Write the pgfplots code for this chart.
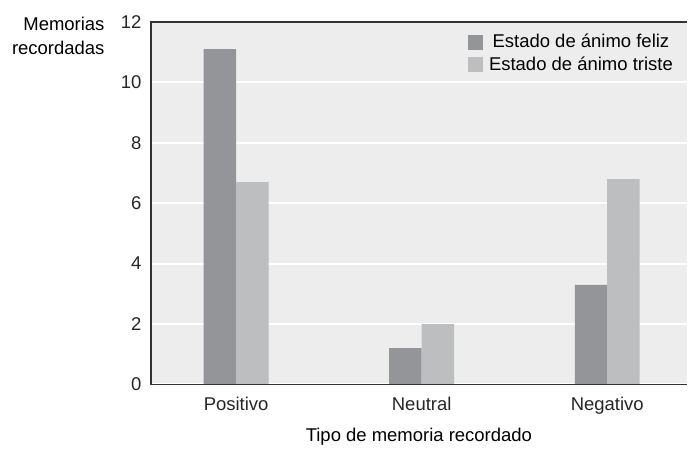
\documentclass[border=0pt]{standalone}
\usepackage{pgfplots}
\pgfplotsset{compat=1.18}
\usepackage{fontspec}
\setmainfont{Liberation Sans}
\definecolor{feliz}{HTML}{939598}
\definecolor{triste}{HTML}{BCBEC0}
\definecolor{panel}{HTML}{EDEDED}
\definecolor{eje}{HTML}{333333}
\begin{document}
\fontsize{18.5}{22}\selectfont
\begin{tikzpicture}
  \begin{axis}[
      scale only axis,
      width=537pt, height=363pt,
      ybar=0pt, bar width=0.175,
      xmin=-0.46, xmax=2.43,
      ymin=0, ymax=12,
      xtick=data,
      xticklabels={Positivo, Neutral, Negativo},
      ytick={0,2,...,12},
      ymajorgrids,
      major grid style={draw=white, line width=2pt},
      major tick length=0pt,
      axis line style={draw=none},
      axis background/.style={fill=panel},
      /pgf/number format/assume math mode=true,
      ticklabel style={font=\fontsize{18.5}{22}\selectfont, text=black!85},
      yticklabel style={xshift=-3pt},
      xticklabel style={yshift=-6pt},
      xlabel={Tipo de memoria recordado},
      xlabel style={font=\fontsize{18.5}{22}\selectfont, yshift=-2pt},
      legend style={
          at={(1,1)}, anchor=north east,
          xshift=-10pt, yshift=-8pt,
          draw=none, fill=none,
          font=\fontsize{18.5}{22}\selectfont,
          row sep=2pt,
          /tikz/every odd column/.append style={column sep=5pt},
          nodes={inner xsep=1pt},
      },
      legend image code/.code={
          \fill[#1] (0pt,-7.5pt) rectangle (15pt,7.5pt);
      },
      clip=false,
    ]
    % estado de animo feliz
    \addplot[draw=none, fill=feliz] coordinates {
      (0, 11.1)
      (1, 1.2)
      (2, 3.3) };
    % estado de animo triste
    \addplot[draw=none, fill=triste] coordinates {
      (0, 6.7)
      (1, 2.0)
      (2, 6.8) };
    \legend{Estado de ánimo feliz, Estado de ánimo triste}

    \draw[eje, line width=1.5pt] (rel axis cs:1,1) -- (rel axis cs:0,1) -- (rel axis cs:0,0) -- (rel axis cs:1,0);
    \node[anchor=north east, align=right, font=\fontsize{18.5}{24}\selectfont]
      at ([xshift=-40pt, yshift=11pt]rel axis cs:0,1) {Memorias\\recordadas};
    \coordinate (sw) at (rel axis cs:0,0);
    \coordinate (ne) at (rel axis cs:1,1);
  \end{axis}
  \path[use as bounding box] ([xshift=-151pt, yshift=-60pt]sw) rectangle ([yshift=22pt]ne);
\end{tikzpicture}
\end{document}
